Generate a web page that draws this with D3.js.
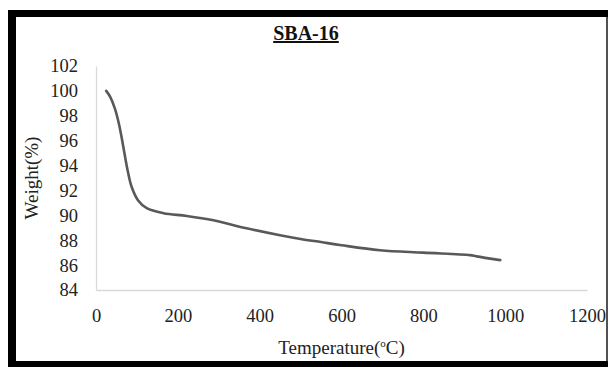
<!DOCTYPE html>
<html><head><meta charset="utf-8">
<script src="https://cdn.jsdelivr.net/npm/d3@7"></script>
<style>html,body{margin:0;padding:0;background:#fff;}svg{display:block;}</style>
</head><body>
<svg id="c" width="610" height="367"></svg>
<script>
const title = "SBA-16";
const xLabel = "Temperature(";
const yLabel = "Weight(%)";
const xTicks = [0, 200, 400, 600, 800, 1000, 1200];
const yTicks = [84, 86, 88, 90, 92, 94, 96, 98, 100, 102];
const temperature = [25, 35, 46, 55, 63, 70, 78, 87, 103, 124, 165, 222, 287, 368, 450, 500, 550, 600, 694, 800, 914, 930, 988];
const weight =      [100.0, 99.5, 98.6, 97.5, 96.2, 94.9, 93.5, 92.3, 91.2, 90.57, 90.17, 89.95, 89.6, 88.96, 88.4, 88.1, 87.85, 87.6, 87.2, 87.0, 86.8, 86.7, 86.4];

const svg = d3.select("#c");
const W = 610, H = 367;
const m = {left: 96, right: 23, top: 66, bottom: 77};
const x = d3.scaleLinear().domain([0, 1200]).range([m.left, W - m.right]);
const y = d3.scaleLinear().domain([84, 102]).range([H - m.bottom, m.top]);
const font = "'Liberation Serif','Times New Roman',serif";

// frame
svg.append("rect").attr("x", 8).attr("y", 10).attr("width", 600).attr("height", 357).attr("fill", "#000");
svg.append("rect").attr("x", 16).attr("y", 17).attr("width", 590).attr("height", 344).attr("fill", "#fff");
svg.append("line").attr("x1", 607).attr("x2", 607).attr("y1", 17).attr("y2", 361).attr("stroke", "#6e6e6e").attr("stroke-width", 1.5);

// axes
const xAxis = d3.axisBottom(x).tickValues(xTicks).tickSize(0).tickPadding(18).tickFormat(d3.format("d"));
const yAxis = d3.axisLeft(y).tickValues(yTicks).tickSize(0).tickPadding(18).tickFormat(d3.format("d"));
const gx = svg.append("g").attr("transform", `translate(0,${H - m.bottom})`).call(xAxis);
const gy = svg.append("g").attr("transform", `translate(${m.left},0)`).call(yAxis);
[gx, gy].forEach(g => {
  g.select(".domain").attr("stroke", "#d9d9d9").attr("stroke-width", 1.3);
  g.selectAll("text").attr("font-family", font).attr("font-size", 18.5).attr("fill", "#222");
});
gx.selectAll("text").attr("dy", "0.71em").attr("y", 19);
gy.selectAll("text").attr("x", -18);

// line
const pts = temperature.map((t, i) => [t, weight[i]]);
svg.append("path").datum(pts)
  .attr("fill", "none").attr("stroke", "#595959").attr("stroke-width", 2.6).attr("stroke-linecap", "round")
  .attr("d", d3.line().x(d => x(d[0])).y(d => y(d[1])).curve(d3.curveCatmullRom.alpha(0.5)));

// title
svg.append("text").attr("x", 306).attr("y", 40).attr("text-anchor", "middle")
  .attr("font-family", font).attr("font-weight", "bold").attr("font-size", 20)
  .style("text-decoration", "underline").attr("fill", "#111").text(title);

// x label
const xl = svg.append("text").attr("x", (m.left + W - m.right) / 2).attr("y", 354).attr("text-anchor", "middle")
  .attr("font-family", font).attr("font-size", 19).attr("fill", "#222");
xl.append("tspan").text(xLabel);
xl.append("tspan").attr("font-size", 11).attr("dy", -7).text("o");
xl.append("tspan").attr("dy", 7).text("C)");

// y label
svg.append("text").attr("transform", `translate(38,${(m.top + H - m.bottom) / 2}) rotate(-90)`)
  .attr("text-anchor", "middle").attr("font-family", font).attr("font-size", 19).attr("fill", "#222").text(yLabel);
</script>
</body></html>
